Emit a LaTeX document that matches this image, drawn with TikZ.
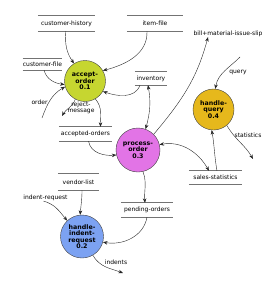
\documentclass[tikz,border=0pt]{standalone}
\usepackage{fontspec}
\setmainfont{DejaVu Sans}
\usetikzlibrary{arrows.meta}

\definecolor{accgreen}{HTML}{C6D630}
\definecolor{procviolet}{HTML}{E274E6}
\definecolor{querygold}{HTML}{E6B81C}
\definecolor{indentblue}{HTML}{7CA2F2}

\begin{document}
\begin{tikzpicture}[
    x=1pt, y=1pt,
    ->, % Makes the arrows point to the target node
    >={Stealth[length=4.5pt,width=3.5pt]}, % Arrow tip style
    draw=black!85, thin, % Line thickness for arrows
    proc/.style={circle, draw=black!75, inner sep=0pt, align=center,
        font=\fontsize{6.3}{6.3}\selectfont\bfseries},
    store/.style={inner sep=0pt, font=\fontsize{6}{7}\selectfont,
        append after command={
            (\tikzlastnode.north west) edge[-, draw=black!55, line width=0.8pt] (\tikzlastnode.north east)
            (\tikzlastnode.south west) edge[-, draw=black!55, line width=0.8pt] (\tikzlastnode.south east)}},
    lbl/.style={inner sep=0pt, align=center, font=\fontsize{6}{6.5}\selectfont}
]
\useasboundingbox (0,0) rectangle (274,-281);

% Define the processes
\node[proc, fill=accgreen, minimum size=41pt] (ACC) at (85,-81) {accept-\\order\\0.1};
\node[proc, fill=procviolet, minimum size=44pt] (PROC) at (138,-150) {process-\\order\\0.3};
\node[proc, fill=querygold, minimum size=41pt] (HQ) at (213.5,-109.5) {handle-\\query\\0.4};
\node[proc, fill=indentblue, minimum size=43pt] (HIR) at (82,-236.5) {handle-\\indent-\\request\\0.2};

% Define the data stores
\node[store, minimum width=57pt, minimum height=15pt] (CH) at (66.5,-23.5) {customer-history};
\node[store, minimum width=56pt, minimum height=15pt] (IF) at (155,-23.5) {item-file};
\node[store, minimum width=39pt, minimum height=11pt] (CF) at (42.5,-64.5) {customer-file};
\node[store, minimum width=32pt, minimum height=13pt] (INV) at (151,-78.5) {inventory};
\node[store, minimum width=53pt, minimum height=14pt] (AO) at (85.5,-134) {accepted-orders};
\node[store, minimum width=41pt, minimum height=16pt] (VL) at (78.5,-182) {vendor-list};
\node[store, minimum width=52pt, minimum height=14pt] (PO) at (147,-210) {pending-orders};
\node[store, minimum width=53pt, minimum height=13pt] (SS) at (215.5,-177.5) {sales-statistics};

% Define the flow labels
\node[lbl] (ORD) at (39.5,-102) {order};
\node[lbl] (REJ) at (81,-108) {reject-\\message};
\node[lbl] (BILL) at (228,-34) {bill+material-issue-slip};
\node[lbl] (QRY) at (238,-72) {query};
\node[lbl] (STAT) at (248,-135) {statistics};
\node[lbl] (IREQ) at (45.5,-198) {indent-request};
\node[lbl] (INDS) at (116,-262) {indents};

% Free ends of the flows
\coordinate (o0) at (42,-118);
\coordinate (r0) at (62,-116);
\coordinate (q0) at (240,-57);
\coordinate (s0) at (253,-159);
\coordinate (i0) at (123,-273);

% Define the directed flows
\draw (CH) to[out=-95, in=125] (ACC.122);
\draw ([xshift=-8pt]IF.south) to[out=-88, in=15] (ACC.30);
\draw (CF) to[out=-75, in=172] (ACC.190);
\draw (o0) to[out=70, in=210] (ACC.196);
\draw (ACC.242) to[out=-110, in=60] (r0);
\draw (ACC.-60) to[out=-50, in=90] ([xshift=15pt]AO.north);
\draw ([xshift=-11pt]INV.south) to[out=-110, in=-20] (ACC.-30);
\draw[<->] ([xshift=-3pt]INV.south) to[out=-80, in=75] (PROC.70);
\draw ([xshift=3pt]AO.south) to[out=-80, in=185] (PROC.193);
\draw (PROC.45) to[out=50, in=-105] ([xshift=-20pt]BILL.south);
\draw (q0) to[out=-135, in=80] (HQ.85);
\draw (HQ.-50) to[out=-60, in=120] (s0);
\draw ([xshift=1.5pt]SS.north) to[out=100, in=-80] (HQ.-95);
\draw[<->] (PROC.14) to[out=10, in=120] ([xshift=-6.5pt]SS.north);
\draw (PROC.-77) to[out=-70, in=95] ([xshift=-2pt]PO.north);
\draw (PO.south) to[out=-100, in=-10] (HIR.-15);
\draw ([xshift=3.5pt]VL.south) to[out=-90, in=85] (HIR.95);
\draw ([xshift=-2pt]IREQ.south) to[out=-15, in=130] (HIR.133);
\draw (HIR.-60) to[out=-60, in=160] (i0);

\end{tikzpicture}
\end{document}
